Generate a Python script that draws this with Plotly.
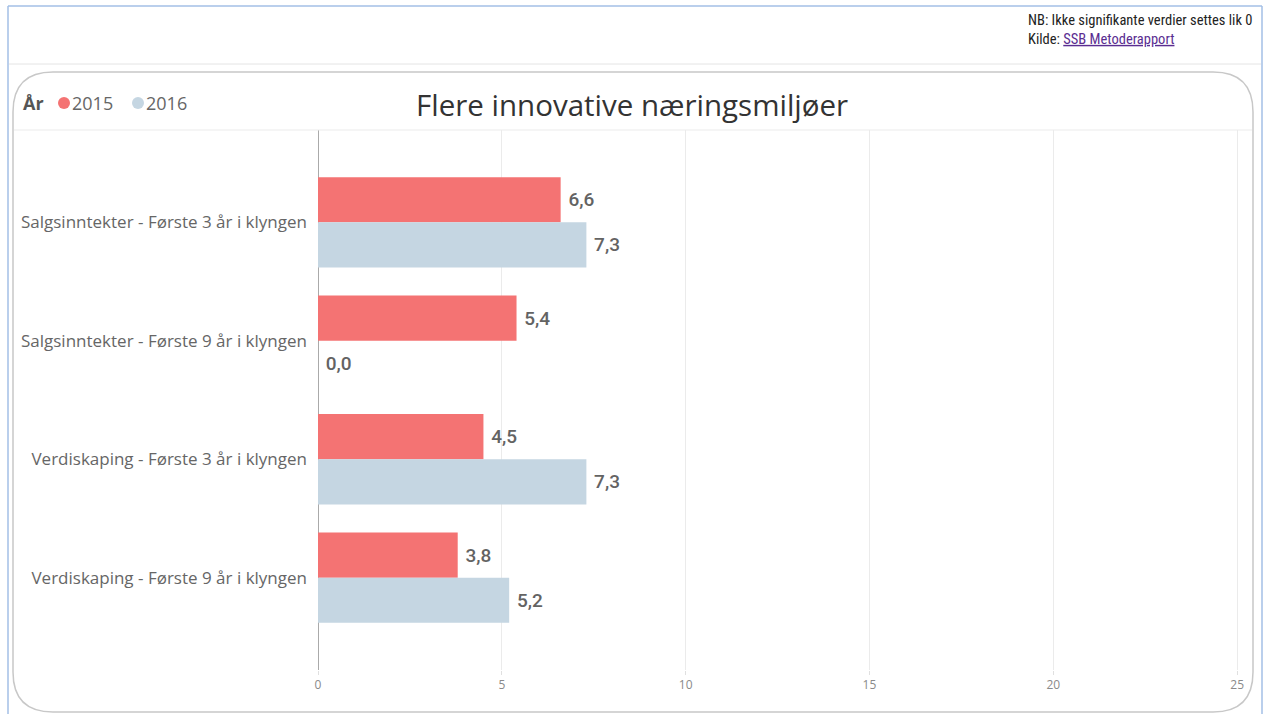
import plotly.graph_objects as go

categories = [
    "Salgsinntekter - Første 3 år i klyngen",
    "Salgsinntekter - Første 9 år i klyngen",
    "Verdiskaping - Første 3 år i klyngen",
    "Verdiskaping - Første 9 år i klyngen",
]
values_2015 = [6.6, 5.4, 4.5, 3.8]
values_2016 = [7.3, 0.0, 7.3, 5.2]
series_names = ["2015", "2016"]
x_ticks = [0, 5, 10, 15, 20, 25]

title_text = "Flere innovative næringsmiljøer"
note_text = "NB: Ikke signifikante verdier settes lik 0"
source_label = "Kilde: "
source_link = "SSB Metoderapport"

RED = "#F47373"
BLUE = "#C5D6E2"

# figure geometry (pixels)
FW, FH = 1265, 714
L, R, T, B = 318, 1250, 130, 670
W, H = R - L, B - T


def xp(px):
    return (px - L) / W


def yp(py):
    return (B - py) / H


def fmt(v):
    return " " + f"{v:.1f}".replace(".", ",")


fig = go.Figure()
for name, vals, col in [(series_names[0], values_2015, RED), (series_names[1], values_2016, BLUE)]:
    fig.add_trace(go.Bar(
        y=categories, x=vals, orientation="h", name=name,
        marker=dict(color=col, line=dict(width=0)),
        text=[fmt(v) for v in vals], textposition="outside",
        textfont=dict(family="Roboto", size=19, color="#636363", weight=500),
        constraintext="none", cliponaxis=False, showlegend=False,
        hovertemplate="%{y}<br>" + name + ": %{x}<extra></extra>",
    ))

shapes = []
# outer blue frame
for (x0, y0, x1, y1) in [(8, 6, 8, 714), (8, 6, 1262, 6), (1262, 6, 1262, 714)]:
    shapes.append(dict(type="line", xref="paper", yref="paper",
                       x0=xp(x0), y0=yp(y0), x1=xp(x1), y1=yp(y1),
                       line=dict(color="#A3BFE6", width=1.5), layer="above"))
# separator under note
shapes.append(dict(type="line", xref="paper", yref="paper",
                   x0=xp(9), y0=yp(64), x1=xp(1261), y1=yp(64),
                   line=dict(color="#E4E4E4", width=1)))
# rounded panel
pl, pr, pt, pb, r = 13, 1253, 72, 712, 40
pts = [
    ("M", [(pl + r, pt)]), ("L", [(pr - r, pt)]), ("Q", [(pr, pt), (pr, pt + r)]),
    ("L", [(pr, pb - r)]), ("Q", [(pr, pb), (pr - r, pb)]), ("L", [(pl + r, pb)]),
    ("Q", [(pl, pb), (pl, pb - r)]), ("L", [(pl, pt + r)]), ("Q", [(pl, pt), (pl + r, pt)]),
]
path = ""
for cmd, coords in pts:
    path += cmd + " " + " ".join(f"{xp(a):.5f},{yp(b):.5f}" for a, b in coords) + " "
path += "Z"
shapes.append(dict(type="path", xref="paper", yref="paper", path=path,
                   line=dict(color="#C8C8C8", width=1.5)))
# line under title row
shapes.append(dict(type="line", xref="paper", yref="paper",
                   x0=xp(14), y0=yp(130), x1=xp(1252), y1=yp(130),
                   line=dict(color="#EBEBEB", width=1)))
# legend dots
for cx, col in [(64, RED), (138, BLUE)]:
    shapes.append(dict(type="circle", xref="paper", yref="paper",
                       xsizemode="pixel", ysizemode="pixel",
                       xanchor=xp(cx), yanchor=yp(103),
                       x0=-6, x1=6, y0=-6, y1=6,
                       fillcolor=col, line=dict(width=0)))

annotations = [
    dict(text=title_text, x=xp(632), y=yp(104), xref="paper", yref="paper",
         showarrow=False, xanchor="center", yanchor="middle",
         font=dict(family="Open Sans", size=29.5, color="#333333")),
    dict(text="<b>År</b>", x=xp(21), y=yp(103), xref="paper", yref="paper",
         showarrow=False, xanchor="left", yanchor="middle",
         font=dict(family="Open Sans", size=18, color="#555555")),
    dict(text=series_names[0], x=xp(70), y=yp(103), xref="paper", yref="paper",
         showarrow=False, xanchor="left", yanchor="middle",
         font=dict(family="Open Sans", size=18, color="#666666")),
    dict(text=series_names[1], x=xp(144), y=yp(103), xref="paper", yref="paper",
         showarrow=False, xanchor="left", yanchor="middle",
         font=dict(family="Open Sans", size=18, color="#666666")),
    dict(text=note_text + "<br>" + source_label + "<span style='color:#5A2D91'><u>" + source_link + "</u></span>",
         x=xp(1254), y=yp(30), xref="paper", yref="paper",
         showarrow=False, xanchor="right", yanchor="middle", align="left",
         font=dict(family="Liberation Sans Narrow, Roboto Condensed, Roboto", size=14.5, color="#222222")),
]

fig.update_layout(
    width=FW, height=FH,
    margin=dict(l=L, r=FW - R, t=T, b=FH - B, pad=0),
    paper_bgcolor="white", plot_bgcolor="white",
    barmode="group", bargap=0.237, bargroupgap=0,
    separators=", ",
    showlegend=False,
    shapes=shapes, annotations=annotations,
    xaxis=dict(range=[0, 25.35], tickvals=x_ticks, ticktext=[str(t) for t in x_ticks],
               showgrid=True, gridcolor="#EBEBEB", gridwidth=1,
               zeroline=True, zerolinecolor="#AAAAAA", zerolinewidth=1,
               ticks="outside", ticklen=4, tickcolor="#E0E0E0",
               tickfont=dict(family="Open Sans", size=12, color="#8A8A8A"),
               showline=False, fixedrange=True),
    yaxis=dict(categoryorder="array", categoryarray=categories,
               range=[3.78, -0.78], showgrid=False, zeroline=False,
               ticks="", ticklabelstandoff=10,
               tickfont=dict(family="Open Sans", size=17, color="#666666"),
               showline=False, fixedrange=True),
    font=dict(family="Open Sans"),
)

fig.write_html("out.html", config={"displayModeBar": False},
               post_script="document.body.style.margin='0';document.body.style.overflow='hidden';")
